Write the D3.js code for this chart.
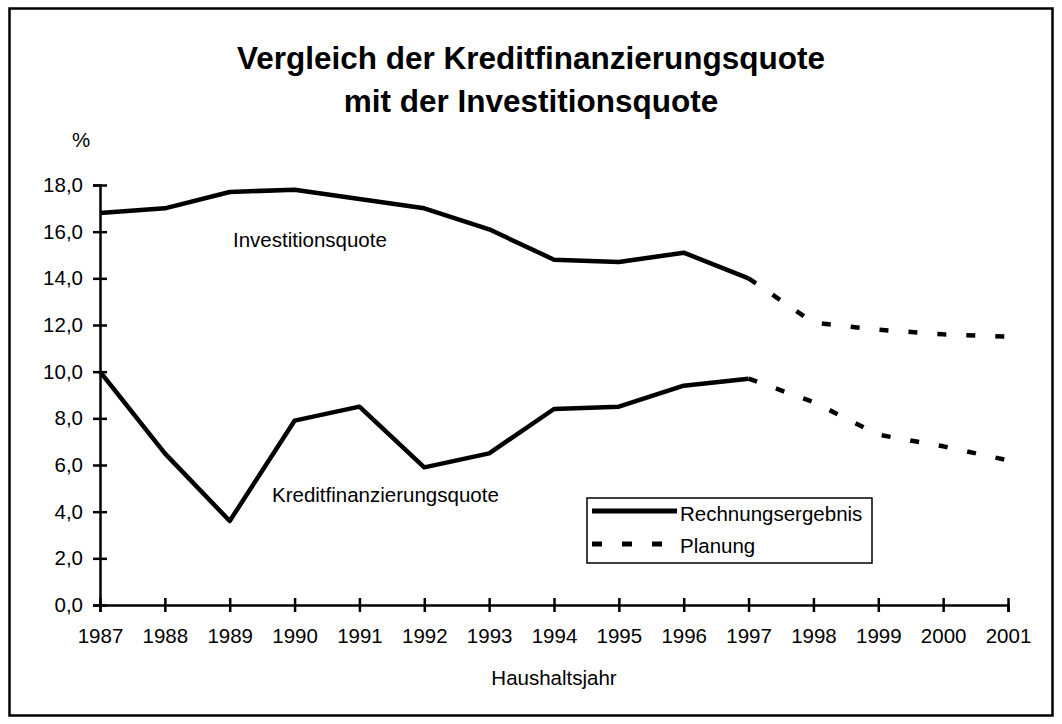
<!DOCTYPE html>
<html>
<head>
<meta charset="utf-8">
<script src="https://cdn.jsdelivr.net/npm/d3@7"></script>
<style>
  body { margin: 0; background: #fff; }
  svg { display: block; font-family: "Liberation Sans", Arial, sans-serif; }
</style>
</head>
<body>
<div id="chart"></div>
<script>
// Daten (Prozent)
const years = [1987, 1988, 1989, 1990, 1991, 1992, 1993, 1994, 1995, 1996, 1997, 1998, 1999, 2000, 2001];
const actualYears = [1987, 1988, 1989, 1990, 1991, 1992, 1993, 1994, 1995, 1996, 1997];
const planYears = [1997, 1998, 1999, 2000, 2001];
const invActual = [16.8, 17.0, 17.7, 17.8, 17.4, 17.0, 16.1, 14.8, 14.7, 15.1, 14.0];
const invPlan = [14.0, 12.1, 11.8, 11.6, 11.5];
const kredActual = [10.0, 6.5, 3.6, 7.9, 8.5, 5.9, 6.5, 8.4, 8.5, 9.4, 9.7];
const kredPlan = [9.7, 8.7, 7.3, 6.8, 6.2];
const yTicks = [0, 2, 4, 6, 8, 10, 12, 14, 16, 18];

const W = 1062, H = 724;
const fs = "20.5px";
const svg = d3.select("#chart").append("svg")
  .attr("width", W).attr("height", H);

// Rahmen
svg.append("rect")
  .attr("x", 9.5).attr("y", 8.5)
  .attr("width", 1043).attr("height", 707)
  .attr("fill", "none").attr("stroke", "#000").attr("stroke-width", 2.5);

const x = d3.scaleLinear().domain([1987, 2001]).range([100, 1008]);
const y = d3.scaleLinear().domain([0, 18]).range([605, 185]);

// Titel
svg.append("text")
  .attr("x", 531).attr("y", 69)
  .attr("text-anchor", "middle")
  .style("font-size", "31.5px").style("font-weight", "bold")
  .text("Vergleich der Kreditfinanzierungsquote");
svg.append("text")
  .attr("x", 531).attr("y", 112)
  .attr("text-anchor", "middle")
  .style("font-size", "31.5px").style("font-weight", "bold")
  .text("mit der Investitionsquote");

// Achsen
const yAxis = svg.append("g")
  .attr("transform", "translate(100,0)")
  .call(d3.axisLeft(y).tickValues(yTicks).tickSizeOuter(0).tickSize(7).tickPadding(10)
    .tickFormat(d => d.toFixed(1).replace(".", ",")));
yAxis.selectAll(".tick line").attr("x1", 7).attr("x2", -7);

const xAxis = svg.append("g")
  .attr("transform", "translate(0,605)")
  .call(d3.axisBottom(x).tickValues(years).tickSizeOuter(0).tickSize(7)
    .tickFormat(d3.format("d")));
xAxis.selectAll(".tick line").attr("y1", -7).attr("y2", 7);
xAxis.selectAll(".tick text").attr("y", 38).attr("dy", null);

svg.selectAll(".domain, .tick line").attr("stroke", "#000").attr("stroke-width", 2.5);
svg.selectAll(".tick text")
  .attr("fill", "#000")
  .style("font-size", fs)
  .style("font-family", "'Liberation Sans', Arial, sans-serif");

svg.append("text").attr("x", 81).attr("y", 147).attr("text-anchor", "middle")
  .style("font-size", fs).text("%");
svg.append("text").attr("x", 554).attr("y", 685).attr("text-anchor", "middle")
  .style("font-size", fs).text("Haushaltsjahr");

// Linien
const line = d3.line().x(d => x(d[0])).y(d => y(d[1]));
const series = [
  { yrs: actualYears, vals: invActual, dash: null },
  { yrs: planYears, vals: invPlan, dash: "9,20" },
  { yrs: actualYears, vals: kredActual, dash: null },
  { yrs: planYears, vals: kredPlan, dash: "9,20" }
];
series.forEach(s => {
  svg.append("path")
    .datum(d3.zip(s.yrs, s.vals))
    .attr("d", line)
    .attr("fill", "none")
    .attr("stroke", "#000")
    .attr("stroke-width", 4.5)
    .attr("stroke-linejoin", "round")
    .attr("stroke-dasharray", s.dash);
});

// Beschriftungen
svg.append("text").attr("x", 233).attr("y", 247)
  .style("font-size", fs).text("Investitionsquote");
svg.append("text").attr("x", 272).attr("y", 502)
  .style("font-size", fs).text("Kreditfinanzierungsquote");

// Legende
const lg = svg.append("g");
lg.append("rect")
  .attr("x", 587).attr("y", 498).attr("width", 285).attr("height", 65)
  .attr("fill", "#fff").attr("stroke", "#000").attr("stroke-width", 1.5);
lg.append("line").attr("x1", 592).attr("x2", 677).attr("y1", 511).attr("y2", 511)
  .attr("stroke", "#000").attr("stroke-width", 5);
lg.append("line").attr("x1", 592).attr("x2", 664).attr("y1", 544).attr("y2", 544)
  .attr("stroke", "#000").attr("stroke-width", 5).attr("stroke-dasharray", "10,20");
lg.append("text").attr("x", 680).attr("y", 521)
  .style("font-size", fs).text("Rechnungsergebnis");
lg.append("text").attr("x", 680).attr("y", 553)
  .style("font-size", fs).text("Planung");
</script>
</body>
</html>
